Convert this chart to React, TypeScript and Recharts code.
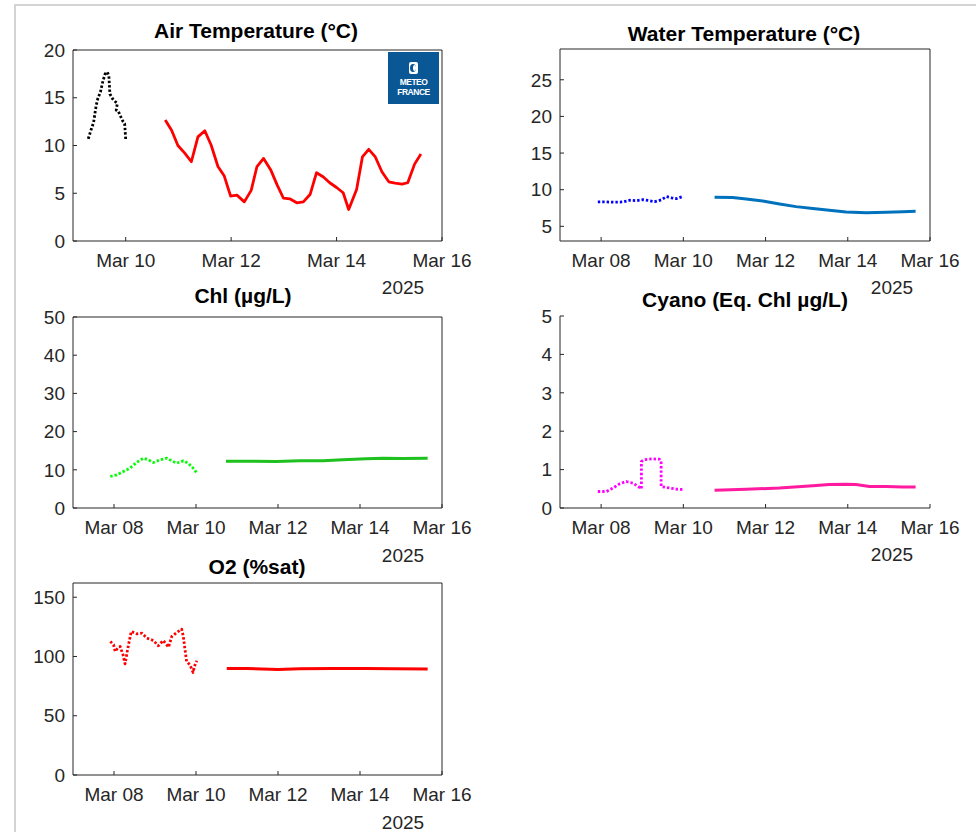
import { LineChart, Line, XAxis, YAxis } from 'recharts';

const FONT = '"Liberation Sans", Arial, Helvetica, sans-serif';
const AXIS = '#262626';

// x values are the day of March 2025 (fractional)
const airDotT = [9.29, 9.34, 9.39, 9.44, 9.47, 9.52, 9.57, 9.61, 9.65, 9.68, 9.7, 9.75, 9.8, 9.84, 9.82, 9.86, 9.89, 9.94, 9.98, 10.0];
const airDotV = [10.7, 11.6, 12.4, 14.2, 14.9, 15.6, 16.8, 17.5, 17.7, 17.3, 15.4, 14.9, 14.6, 14.4, 13.7, 13.6, 13.2, 12.6, 12.3, 10.6];
const airT = [10.75, 10.87, 10.99, 11.12, 11.245, 11.37, 11.5, 11.62, 11.75, 11.87, 11.99, 12.11, 12.25, 12.38, 12.49, 12.615, 12.755, 12.87, 12.99, 13.12, 13.245, 13.37, 13.5, 13.62, 13.75, 13.87, 14.0, 14.125, 14.23, 14.38, 14.49, 14.61, 14.735, 14.86, 14.99, 15.11, 15.24, 15.35, 15.48, 15.6];
const airV = [12.67, 11.6, 10.0, 9.2, 8.3, 10.9, 11.55, 10.05, 7.8, 6.8, 4.7, 4.8, 4.1, 5.3, 7.8, 8.65, 7.4, 5.9, 4.5, 4.4, 4.0, 4.1, 4.9, 7.15, 6.7, 6.1, 5.6, 5.05, 3.3, 5.4, 8.8, 9.6, 8.8, 7.25, 6.2, 6.05, 5.95, 6.1, 8.05, 9.1];

const waterDotT = [7.92, 8.13, 8.33, 8.53, 8.69, 8.86, 9.02, 9.18, 9.3, 9.46, 9.59, 9.71, 9.83, 9.97];
const waterDotV = [8.33, 8.33, 8.29, 8.33, 8.56, 8.5, 8.64, 8.5, 8.37, 8.6, 9.05, 8.9, 8.78, 9.05];
const waterT = [10.76, 11.2, 11.53, 11.93, 12.34, 12.74, 13.15, 13.55, 13.96, 14.45, 14.94, 15.34, 15.65];
const waterV = [8.97, 8.92, 8.74, 8.46, 8.05, 7.69, 7.42, 7.19, 6.96, 6.87, 6.92, 7.0, 7.05];

const chlDotT = [7.91, 8.07, 8.23, 8.39, 8.56, 8.72, 8.84, 8.96, 9.12, 9.29, 9.41, 9.53, 9.69, 9.81, 9.93, 10.01];
const chlDotV = [8.25, 8.69, 9.55, 10.44, 12.0, 13.05, 12.6, 11.9, 12.6, 13.05, 12.35, 11.74, 12.35, 11.74, 10.44, 9.3];
const chlT = [10.73, 11.31, 11.96, 12.53, 13.1, 13.58, 14.15, 14.56, 15.04, 15.65];
const chlV = [12.26, 12.26, 12.17, 12.35, 12.35, 12.6, 12.87, 13.05, 12.96, 13.05];

const cyanoDotT = [7.92, 8.13, 8.29, 8.45, 8.61, 8.77, 8.9, 8.98, 8.98, 9.06, 9.26, 9.42, 9.46, 9.46, 9.67, 9.83, 10.01];
const cyanoDotV = [0.43, 0.43, 0.52, 0.63, 0.69, 0.65, 0.56, 0.5, 1.21, 1.26, 1.28, 1.27, 1.21, 0.56, 0.52, 0.49, 0.48];
const cyanoT = [10.76, 11.53, 12.34, 13.15, 13.55, 13.96, 14.2, 14.53, 14.94, 15.34, 15.65];
const cyanoV = [0.46, 0.49, 0.52, 0.58, 0.61, 0.62, 0.61, 0.56, 0.56, 0.55, 0.55];

const o2DotT = [7.91, 7.99, 8.03, 8.09, 8.15, 8.22, 8.27, 8.33, 8.42, 8.56, 8.68, 8.8, 8.96, 9.08, 9.2, 9.33, 9.41, 9.53, 9.65, 9.69, 9.77, 9.85, 9.93, 9.96, 10.02];
const o2DotV = [112.7, 109.9, 104.2, 107.1, 108.4, 101.4, 93.8, 105.6, 121.1, 119.1, 119.7, 115.5, 113.5, 109.0, 113.5, 107.9, 116.9, 120.2, 123.1, 116.9, 95.8, 93.0, 86.5, 91.6, 96.4];
const o2T = [10.75, 11.23, 12.0, 12.53, 13.34, 14.15, 14.8, 15.65];
const o2V = [89.9, 89.9, 89.0, 89.6, 89.9, 89.9, 89.6, 89.4];

const ticksFrom8 = [8, 10, 12, 14, 16];
const ticksFrom10 = [10, 12, 14, 16];

const zip = (t: number[], v: number[]) => t.map((x, i) => ({ t: x, v: v[i] }));
const fmtDay = (d: number) => `Mar ${String(d).padStart(2, '0')}`;

type Series = { data: { t: number; v: number }[]; color: string; dotted?: boolean; width?: number };

type PanelProps = {
  left: number;
  top: number;
  w: number;
  h: number;
  xDomain: [number, number];
  xTicks: number[];
  yDomain: [number, number];
  yTicks: number[];
  box?: boolean;
  series: Series[];
};

const tickStyle = { fill: AXIS, fontSize: 19, fontFamily: FONT };

function Panel({ left, top, w, h, xDomain, xTicks, yDomain, yTicks, box = true, series }: PanelProps) {
  const yw = 60;
  const xh = 40;
  const mr = 45;
  const mt = 12;
  // the box axes take 1px each (an axis of size 0 is not drawn)
  const topPad = mt + (box ? 1 : 0);
  const rightPad = mr + (box ? 1 : 0);
  return (
    <div style={{ position: 'absolute', left: left - yw, top: top - topPad }}>
      <LineChart width={yw + w + rightPad} height={topPad + h + xh} margin={{ top: mt, right: mr, bottom: 0, left: 0 }}>
        <XAxis
          dataKey="t"
          type="number"
          domain={xDomain}
          ticks={xTicks}
          interval={0}
          allowDataOverflow
          tickFormatter={fmtDay}
          tickSize={-4}
          tickMargin={17}
          height={xh}
          stroke={AXIS}
          tick={tickStyle}
        />
        <YAxis
          type="number"
          domain={yDomain}
          ticks={yTicks}
          interval={0}
          allowDataOverflow
          width={yw}
          tickSize={-4}
          tickMargin={12}
          stroke={AXIS}
          tick={tickStyle}
        />
        {box && (
          <XAxis
            xAxisId="top"
            orientation="top"
            type="number"
            domain={xDomain}
            ticks={xTicks}
            interval={0}
            allowDataOverflow
            tick={false}
            tickSize={-4}
            height={1}
            stroke={AXIS}
          />
        )}
        {box && (
          <YAxis
            yAxisId="right"
            orientation="right"
            type="number"
            domain={yDomain}
            ticks={yTicks}
            interval={0}
            allowDataOverflow
            tick={false}
            tickSize={-4}
            width={1}
            stroke={AXIS}
          />
        )}
        {series.map((s, i) => (
          <Line
            key={i}
            data={s.data}
            dataKey="v"
            type="linear"
            stroke={s.color}
            strokeWidth={s.width ?? 2.8}
            strokeDasharray={s.dotted ? '2.4 2' : undefined}
            strokeLinejoin="round"
            dot={false}
            activeDot={false}
            isAnimationActive={false}
          />
        ))}
      </LineChart>
    </div>
  );
}

function Caption({ x, y, text, bold }: { x: number; y: number; text: string; bold?: boolean }) {
  return (
    <div
      style={{
        position: 'absolute',
        left: x,
        top: y,
        transform: 'translate(-50%, -50%)',
        whiteSpace: 'nowrap',
        lineHeight: 1,
        fontSize: bold ? 21 : 19,
        fontWeight: bold ? 700 : 400,
        color: bold ? '#000' : AXIS,
      }}
    >
      {text}
    </div>
  );
}

const logoText = {
  position: 'absolute' as const,
  left: 0,
  width: '100%',
  textAlign: 'center' as const,
  color: '#fff',
  fontSize: 8.5,
  fontWeight: 700,
  lineHeight: '8px',
  letterSpacing: -0.5,
};

export default function App() {
  return (
    <div style={{ position: 'relative', width: 976, height: 832, overflow: 'hidden', background: '#fff', fontFamily: FONT }}>
      <style>{'body{margin:0;background:#fff}'}</style>
      <div style={{ position: 'absolute', left: 14, top: 4, right: 0, bottom: 0, borderLeft: '2px solid #d4d4d4', borderTop: '2px solid #d4d4d4' }} />

      <Panel
        left={73}
        top={50}
        w={369}
        h={191}
        xDomain={[9, 16]}
        xTicks={ticksFrom10}
        yDomain={[0, 20]}
        yTicks={[0, 5, 10, 15, 20]}
        series={[
          { data: zip(airDotT, airDotV), color: '#000000', dotted: true },
          { data: zip(airT, airV), color: '#ff0000', width: 2.8 },
        ]}
      />
      <Caption x={256} y={30} text="Air Temperature (°C)" bold />
      <Caption x={403} y={287} text="2025" />
      <div style={{ position: 'absolute', left: 388, top: 52, width: 51, height: 52, background: '#0a5796' }}>
        <div style={{ position: 'absolute', left: 21, top: 10, width: 9, height: 12, background: '#fff', borderRadius: 2 }}>
          <div style={{ position: 'absolute', left: 1, top: 2, width: 6, height: 8, borderRadius: '50%', background: '#0a5796' }} />
          <div style={{ position: 'absolute', left: 4, top: 3, width: 3, height: 6, borderRadius: '50%', background: '#fff' }} />
        </div>
        <div style={{ ...logoText, top: 26 }}>METEO</div>
        <div style={{ ...logoText, top: 36 }}>FRANCE</div>
      </div>

      <Panel
        left={560}
        top={49}
        w={370}
        h={192}
        xDomain={[7, 16]}
        xTicks={ticksFrom8}
        yDomain={[3, 29.2]}
        yTicks={[5, 10, 15, 20, 25]}
        series={[
          { data: zip(waterDotT, waterDotV), color: '#0000ff', dotted: true },
          { data: zip(waterT, waterV), color: '#0072bd', width: 3 },
        ]}
      />
      <Caption x={744} y={33} text="Water Temperature (°C)" bold />
      <Caption x={892} y={287} text="2025" />

      <Panel
        left={73}
        top={317}
        w={369}
        h={191}
        xDomain={[7, 16]}
        xTicks={ticksFrom8}
        yDomain={[0, 50]}
        yTicks={[0, 10, 20, 30, 40, 50]}
        series={[
          { data: zip(chlDotT, chlDotV), color: '#00ff00', dotted: true },
          { data: zip(chlT, chlV), color: '#1fc11f', width: 3 },
        ]}
      />
      <Caption x={243} y={295} text="Chl (µg/L)" bold />
      <Caption x={403} y={555} text="2025" />

      <Panel
        left={560}
        top={316}
        w={370}
        h={192}
        xDomain={[7, 16]}
        xTicks={ticksFrom8}
        yDomain={[0, 5]}
        yTicks={[0, 1, 2, 3, 4, 5]}
        box={false}
        series={[
          { data: zip(cyanoDotT, cyanoDotV), color: '#ff00ff', dotted: true },
          { data: zip(cyanoT, cyanoV), color: '#ff1aa0', width: 3 },
        ]}
      />
      <Caption x={745} y={299} text="Cyano (Eq. Chl µg/L)" bold />
      <Caption x={892} y={554} text="2025" />

      <Panel
        left={73}
        top={583}
        w={369}
        h={192}
        xDomain={[7, 16]}
        xTicks={ticksFrom8}
        yDomain={[0, 162]}
        yTicks={[0, 50, 100, 150]}
        series={[
          { data: zip(o2DotT, o2DotV), color: '#ff0000', dotted: true },
          { data: zip(o2T, o2V), color: '#ff0000', width: 3 },
        ]}
      />
      <Caption x={257} y={566} text="O2 (%sat)" bold />
      <Caption x={403} y={822} text="2025" />
    </div>
  );
}
